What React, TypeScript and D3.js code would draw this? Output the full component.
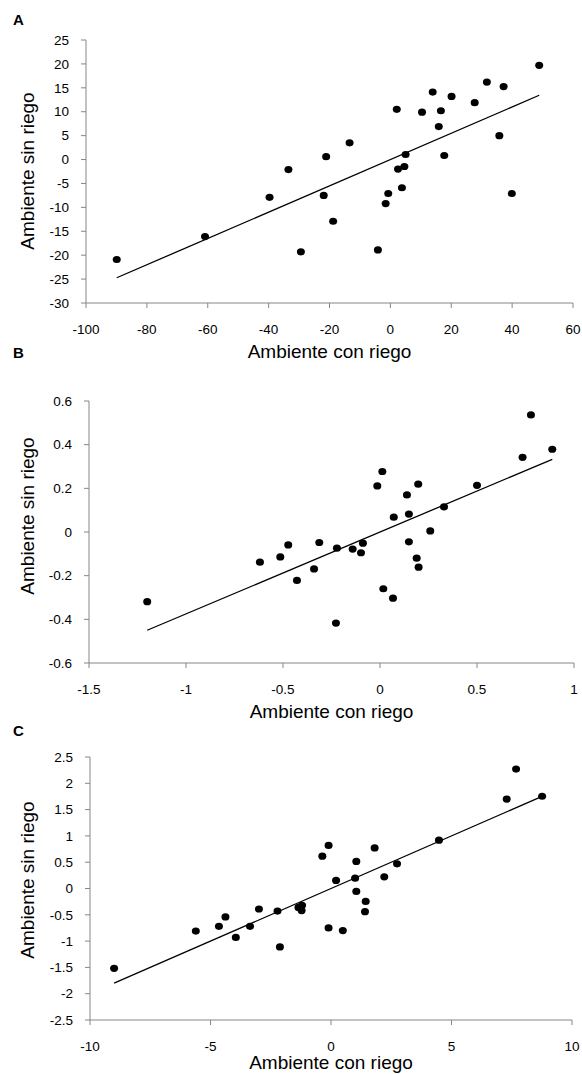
import React from 'react';
import * as d3 from 'd3';

// ---------- data ----------
const xA = [-89.9, -60.9, -39.7, -33.5, -29.4, -21.1, -21.9, -18.8, -13.4, -4.1, 2.1, -1.55, -0.7, 3.8, 2.5, 4.6, 5.0, 10.4, 13.9, 16.6, 15.9, 20.1, 17.7, 27.7, 31.7, 37.2, 35.8, 39.9, 48.9];
const yA = [-20.9, -16.1, -7.9, -2.1, -19.3, 0.6, -7.5, -12.9, 3.5, -18.9, 10.5, -9.2, -7.1, -5.9, -2.0, -1.45, 1.05, 9.9, 14.1, 10.2, 6.9, 13.2, 0.85, 11.9, 16.2, 15.25, 5.0, -7.1, 19.7];

const xB = [-1.2, -0.619, -0.514, -0.473, -0.428, -0.34, -0.313, -0.222, -0.227, -0.141, -0.088, -0.098, -0.014, 0.012, 0.017, 0.067, 0.071, 0.139, 0.149, 0.149, 0.197, 0.189, 0.199, 0.259, 0.33, 0.5, 0.735, 0.778, 0.888];
const yB = [-0.319, -0.138, -0.114, -0.059, -0.222, -0.169, -0.048, -0.074, -0.417, -0.078, -0.051, -0.095, 0.211, 0.277, -0.26, -0.303, 0.068, 0.17, 0.082, -0.045, 0.219, -0.12, -0.161, 0.005, 0.115, 0.214, 0.342, 0.536, 0.379];

const xC = [-9.0, -5.61, -4.65, -4.38, -3.95, -3.36, -2.99, -2.22, -2.12, -1.35, -1.2, -1.22, -0.36, -0.1, -0.1, 0.21, 0.49, 1.05, 1.0, 1.05, 1.44, 1.41, 1.81, 2.21, 2.74, 4.48, 7.29, 7.68, 8.76];
const yC = [-1.518, -0.81, -0.72, -0.54, -0.93, -0.72, -0.39, -0.43, -1.11, -0.36, -0.32, -0.42, 0.615, 0.818, -0.75, 0.153, -0.8, 0.514, 0.197, -0.056, -0.245, -0.44, 0.772, 0.222, 0.47, 0.918, 1.7, 2.27, 1.754];

const xTicksA = [-100, -80, -60, -40, -20, 0, 20, 40, 60];
const yTicksA = [-30, -25, -20, -15, -10, -5, 0, 5, 10, 15, 20, 25];
const xTicksB = [-1.5, -1, -0.5, 0, 0.5, 1];
const yTicksB = [-0.6, -0.4, -0.2, 0, 0.2, 0.4, 0.6];
const xTicksC = [-10, -5, 0, 5, 10];
const yTicksC = [-2.5, -2, -1.5, -1, -0.5, 0, 0.5, 1, 1.5, 2, 2.5];

const fitSlope = [0.275, 0.375, 0.2];
const fitIntercept = [0.0, 0.0, 0.0];

const panelLabels = ['A', 'B', 'C'];
const xTitle = 'Ambiente con riego';
const yTitle = 'Ambiente sin riego';

// ---------- layout ----------
const layout = [
  { top: 40, bottom: 303, left: 86, right: 573, labelY: 25, xTitleY: 358, yTitleY: 171 },
  { top: 401, bottom: 663, left: 89, right: 574, labelY: 358, xTitleY: 718, yTitleY: 516 },
  { top: 757, bottom: 1020, left: 90, right: 572, labelY: 736, xTitleY: 1069, yTitleY: 880 },
];

const panels = [
  { xs: xA, ys: yA, xt: xTicksA, yt: yTicksA },
  { xs: xB, ys: yB, xt: xTicksB, yt: yTicksB },
  { xs: xC, ys: yC, xt: xTicksC, yt: yTicksC },
];

const AXIS = '#868686';
const TICK_FONT = '"Liberation Sans", Arial, sans-serif';

function Panel({ i }: { i: number }) {
  const p = panels[i];
  const L = layout[i];
  const x = d3.scaleLinear().domain(d3.extent(p.xt) as [number, number]).range([L.left, L.right]);
  const y = d3.scaleLinear().domain(d3.extent(p.yt) as [number, number]).range([L.bottom, L.top]);
  const pts = p.xs.map((v, k) => [v, p.ys[k]] as [number, number]);
  const [xmin, xmax] = d3.extent(p.xs) as [number, number];
  const line = d3.line<number>().x((v) => x(v)).y((v) => y(fitSlope[i] * v + fitIntercept[i]));
  const cx = (L.left + L.right) / 2;
  return (
    <g>
      <text x={13} y={L.labelY} fontFamily={TICK_FONT} fontWeight="bold" fontSize={15} fill="#000">
        {panelLabels[i]}
      </text>
      {/* y axis */}
      <line x1={L.left} x2={L.left} y1={L.top} y2={L.bottom} stroke={AXIS} strokeWidth={1} />
      {p.yt.map((t) => (
        <g key={'y' + t}>
          <line x1={L.left - 5} x2={L.left} y1={y(t)} y2={y(t)} stroke={AXIS} />
          <text x={L.left - 17} y={y(t)} dy="0.35em" textAnchor="end" fontFamily={TICK_FONT} fontSize={13.5} fill="#000">
            {String(t)}
          </text>
        </g>
      ))}
      {/* x axis */}
      <line x1={L.left} x2={L.right} y1={L.bottom} y2={L.bottom} stroke={AXIS} strokeWidth={1} />
      {p.xt.map((t) => (
        <g key={'x' + t}>
          <line x1={x(t)} x2={x(t)} y1={L.bottom} y2={L.bottom + 5} stroke={AXIS} />
          <text x={x(t)} y={L.bottom + 31} textAnchor="middle" fontFamily={TICK_FONT} fontSize={13.5} fill="#000">
            {String(t)}
          </text>
        </g>
      ))}
      {/* trend line */}
      <path d={line([xmin, xmax]) || ''} stroke="#000" strokeWidth={1.3} fill="none" />
      {/* points */}
      {pts.map(([a, b], k) => (
        <ellipse key={k} cx={x(a)} cy={y(b)} rx={4} ry={3.6} fill="#000" />
      ))}
      {/* titles */}
      <text x={cx} y={L.xTitleY} textAnchor="middle" fontFamily={TICK_FONT} fontSize={19} fill="#000">
        {xTitle}
      </text>
      <text
        transform={`translate(34,${L.yTitleY}) rotate(-90)`}
        textAnchor="middle"
        fontFamily={TICK_FONT}
        fontSize={19}
        fill="#000"
      >
        {yTitle}
      </text>
    </g>
  );
}

export default function App() {
  return (
    <svg
      width={582}
      height={1074}
      style={{ position: 'absolute', left: 0, top: 0, background: '#fff' }}
    >
      <rect width={582} height={1074} fill="#fff" />
      {[0, 1, 2].map((i) => (
        <Panel key={i} i={i} />
      ))}
    </svg>
  );
}
